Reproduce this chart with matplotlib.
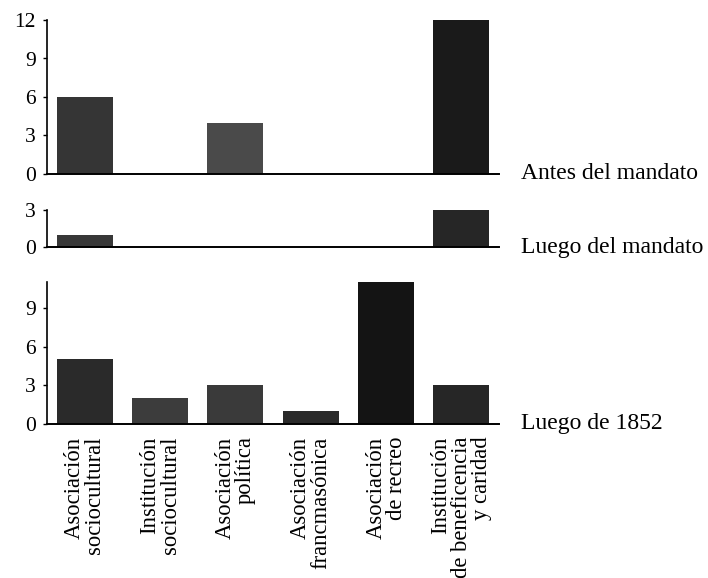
import matplotlib
matplotlib.use("Agg")
import matplotlib.pyplot as plt

categories = ["Asociación\nsociocultural", "Institución\nsociocultural", "Asociación\npolítica",
              "Asociación\nfrancmasónica", "Asociación\nde recreo", "Institución\nde beneficencia\ny caridad"]
antes = [6, 0, 4, 0, 0, 12]
luego = [1, 0, 0, 0, 0, 3]
despues1852 = [5, 2, 3, 1, 11, 3]
panel_labels = ["Antes del mandato", "Luego del mandato", "Luego de 1852"]

plt.rcParams['font.family'] = ['Liberation Serif', 'DejaVu Serif']

fig = plt.figure(figsize=(7.08, 5.78), dpi=100)
W, H = 708, 578
left, right = 47, 499

def mk_axes(y_top, y_bot):
    return fig.add_axes([left / W, 1 - y_bot / H, (right - left) / W, (y_bot - y_top) / H])

ax1 = mk_axes(20, 174)
ax2 = mk_axes(210, 247)
ax3 = mk_axes(282, 424)

panels = [(ax1, antes, 12, [0, 3, 6, 9, 12], ["#353535", "#353535", "#4a4a4a", "#353535", "#353535", "#1a1a1a"]),
          (ax2, luego, 3, [0, 3], ["#383838", "#383838", "#383838", "#383838", "#383838", "#262626"]),
          (ax3, despues1852, 11, [0, 3, 6, 9], ["#2a2a2a", "#3c3c3c", "#3a3a3a", "#2a2a2a", "#141414", "#262626"])]

x = list(range(len(categories)))
for (ax, vals, ymax, ticks, cols), lab in zip(panels, panel_labels):
    ax.bar(x, vals, width=0.74, color=cols, edgecolor='none', clip_on=False)
    ax.set_xlim(-0.5, 5.5)
    ax.set_ylim(0, ymax)
    ax.set_yticks(ticks)
    ax.spines['top'].set_visible(False)
    ax.spines['right'].set_visible(False)
    ax.spines['left'].set_linewidth(1.2)
    ax.spines['bottom'].set_linewidth(1.4)
    ax.tick_params(axis='y', length=3, width=1, labelsize=15.5, pad=5)
    ax.tick_params(axis='x', length=0)
    ax.set_xticks([])
    ax.text(1.049, 0.0, lab, transform=ax.transAxes, ha='left', va='center', fontsize=17)

ax3.set_xticks(x)
ax3.set_xticklabels(categories, rotation=90, ha='center', va='top', multialignment='right',
                    fontsize=16.3, linespacing=0.95)
ax3.tick_params(axis='x', length=0, pad=9)

fig.savefig("out.png", dpi=100)
